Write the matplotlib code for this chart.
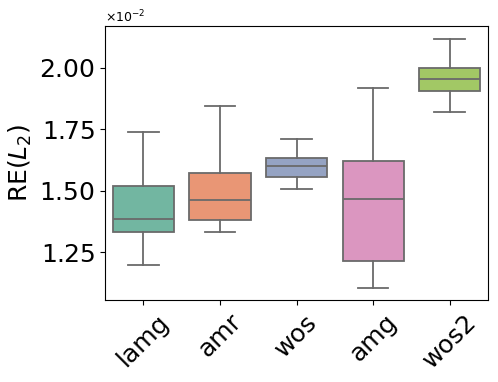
import numpy as np
import matplotlib
matplotlib.use("Agg")
import matplotlib.pyplot as plt
from matplotlib.ticker import MultipleLocator, ScalarFormatter
import seaborn as sns

methods = ['lamg', 'amr', 'wos', 'amg', 'wos2']
# box stats (units of 1e-2)
whis_lo = [1.198, 1.332, 1.506, 1.106, 1.819]
q1 = [1.333, 1.381, 1.556, 1.215, 1.905]
med = [1.385, 1.462, 1.600, 1.465, 1.954]
q3 = [1.520, 1.571, 1.632, 1.622, 2.000]
whis_hi = [1.737, 1.846, 1.709, 1.919, 2.118]

stats = []
for i, m in enumerate(methods):
    stats.append(dict(label=m, whislo=whis_lo[i]*1e-2, q1=q1[i]*1e-2, med=med[i]*1e-2,
                      q3=q3[i]*1e-2, whishi=whis_hi[i]*1e-2, fliers=[]))

colors = [sns.desaturate(c, 0.75) for c in sns.color_palette('Set2', 5)]
lc = '#6a6a6a'

fig = plt.figure(figsize=(4.98, 3.82), dpi=100)
ax = fig.add_axes([0.211, 0.215, 0.769, 0.717])
bp = ax.bxp(stats, positions=range(len(methods)), widths=0.8, patch_artist=True,
            showfliers=False,
            boxprops=dict(edgecolor=lc, linewidth=1.3),
            medianprops=dict(color=lc, linewidth=1.3),
            whiskerprops=dict(color=lc, linewidth=1.3),
            capprops=dict(color=lc, linewidth=1.3),
            capwidths=0.4)
for patch, c in zip(bp['boxes'], colors):
    patch.set_facecolor(c)

ax.set_xlim(-0.5, 4.5)
ax.set_ylim(1.056e-2, 2.17e-2)
ax.yaxis.set_major_locator(MultipleLocator(0.25e-2))
fmt = ScalarFormatter(useMathText=True)
fmt.set_powerlimits((-2, -2))
ax.yaxis.set_major_formatter(fmt)
ax.set_xticks(range(len(methods)))
ax.set_xticklabels(methods, rotation=45, fontsize=18)
ax.tick_params(axis='y', labelsize=18)
ax.set_ylabel(r'RE($L_2$)', fontsize=18)
ax.yaxis.get_offset_text().set_fontsize(9)

fig.savefig('out.png', dpi=100)
